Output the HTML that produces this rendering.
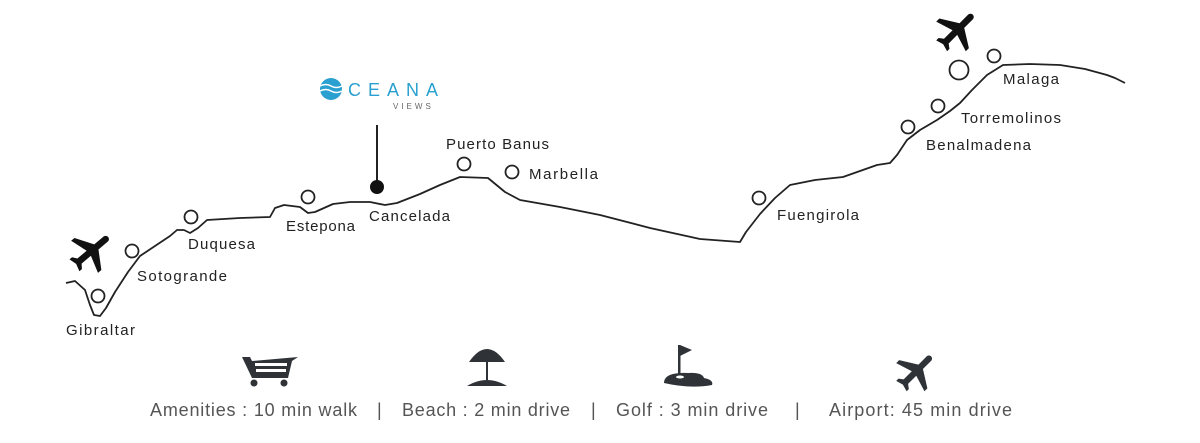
<!DOCTYPE html>
<html><head><meta charset="utf-8"><style>
html,body{margin:0;padding:0;background:#fff;}
svg{display:block;}
text{font-family:"Liberation Sans",sans-serif;}
</style></head><body>
<svg width="1200" height="443" viewBox="0 0 1200 443" xmlns="http://www.w3.org/2000/svg">
<defs>
<path id="pl" d="M21 16v-2l-8-5V3.5c0-.83-.67-1.5-1.5-1.5S10 2.67 10 3.5V9l-8 5v2l8-2.5V19l-2 1.5V22l3.5-1 3.5 1v-1.5L13 19v-5.5l8 2.5z"/>
</defs>
<path d="M66,283 L75,281 L85,290 L90,305 L94,315 L100,316 L106,308 L115,292 L128,272 L140,256 L155,246 L170,236 L177,230 L184,230 L190,233 L198,228 L207,220 L240,218 L270,217 L275,208 L284,205 L300,207 L308,213 L315,212 L333,204 L350,202 L370,202 L385,205 L397,203 L420,194 L440,185 L460,177 L488,178 L505,192 L520,200 L560,207 L600,215 L650,228 L700,239 L740,242 L746,232 L760,214 L775,198 L790,185 L815,180 L843,177 L860,171 L877,165 L890,163 L897,155 L907,140 L920,130 L937,120 L950,111 L960,103 L972,90 L987,75 L1003,65 L1030,64 L1060,65 L1085,69 L1107,75 L1115,78 L1125,83" fill="none" stroke="#222" stroke-width="1.8" stroke-linejoin="round"/>
<g fill="#fff" stroke="#222" stroke-width="1.8">
<circle cx="98" cy="296" r="6.5"/>
<circle cx="132" cy="251" r="6.5"/>
<circle cx="191" cy="217" r="6.5"/>
<circle cx="308" cy="197" r="6.5"/>
<circle cx="464" cy="164" r="6.5"/>
<circle cx="512" cy="172" r="6.5"/>
<circle cx="759" cy="198" r="6.5"/>
<circle cx="908" cy="127" r="6.5"/>
<circle cx="938" cy="106" r="6.5"/>
<circle cx="959" cy="70" r="9.5"/>
<circle cx="994" cy="56" r="6.5"/>
</g>
<line x1="377" y1="125" x2="377" y2="187" stroke="#222" stroke-width="2"/>
<circle cx="377" cy="187" r="7" fill="#111"/>
<g fill="#111">
<use href="#pl" transform="translate(92,252) rotate(50) scale(2.2) translate(-12,-12)"/>
<use href="#pl" transform="translate(958,31) rotate(45) scale(2.2) translate(-12,-12)"/>
</g>
<g font-size="15" fill="#222" lengthAdjust="spacingAndGlyphs">
<text x="66" y="335" textLength="69">Gibraltar</text>
<text x="137" y="281" textLength="90">Sotogrande</text>
<text x="188" y="249" textLength="67">Duquesa</text>
<text x="286" y="231" textLength="69">Estepona</text>
<text x="369" y="221" textLength="81">Cancelada</text>
<text x="446" y="149" textLength="103">Puerto Banus</text>
<text x="529" y="179" textLength="69">Marbella</text>
<text x="777" y="220" textLength="82">Fuengirola</text>
<text x="926" y="150" textLength="105">Benalmadena</text>
<text x="961" y="123" textLength="100">Torremolinos</text>
<text x="1003" y="84" textLength="56">Malaga</text>
</g>
<!-- logo -->
<circle cx="331" cy="89" r="11" fill="#2aa0d0"/>
<path d="M320,86 Q326,83 331,86 T342,86 M320,91 Q326,88 331,91 T342,91" stroke="#fff" stroke-width="1.5" fill="none"/>
<text x="348" y="96" font-size="18" fill="#2aa0d0" letter-spacing="7">CEANA</text>
<text x="393" y="109" font-size="8" fill="#666" letter-spacing="3">VIEWS</text>
<!-- bottom icons -->
<g fill="#2f3338">
<path d="M242,357 L250,357 L252,361 L298,357 L292,361 L288,378 L252,378 Z"/>
<rect x="255" y="363" width="32" height="3" fill="#fff"/>
<rect x="256" y="369" width="30" height="3" fill="#fff"/>
<circle cx="254" cy="383" r="3.5"/><circle cx="284" cy="383" r="3.5"/>
<path d="M469,362 Q487,336 505,362 Z"/>
<rect x="486" y="356" width="2" height="24"/>
<path d="M467,386 Q487,374 507,386 Z"/>
<rect x="678" y="345" width="2.5" height="30"/>
<path d="M680,345 L692,350 L680,356 Z"/>
<path d="M664,383 Q664,372 688,373 Q702,372 704,378 Q714,380 712,385 Q690,389 664,383 Z"/>
<ellipse cx="680" cy="377" rx="4" ry="1.5" fill="#fff"/>
<use href="#pl" transform="translate(917,372) rotate(45) scale(2.1) translate(-12,-12)"/>
</g>
<g font-size="18" fill="#555" lengthAdjust="spacingAndGlyphs">
<text x="150" y="416" textLength="207">Amenities : 10 min walk</text>
<text x="377" y="416">|</text>
<text x="402" y="416" textLength="168">Beach : 2 min drive</text>
<text x="591" y="416">|</text>
<text x="616" y="416" textLength="152">Golf : 3 min drive</text>
<text x="795" y="416">|</text>
<text x="829" y="416" textLength="183">Airport: 45 min drive</text>
</g>
</svg>
</body></html>
